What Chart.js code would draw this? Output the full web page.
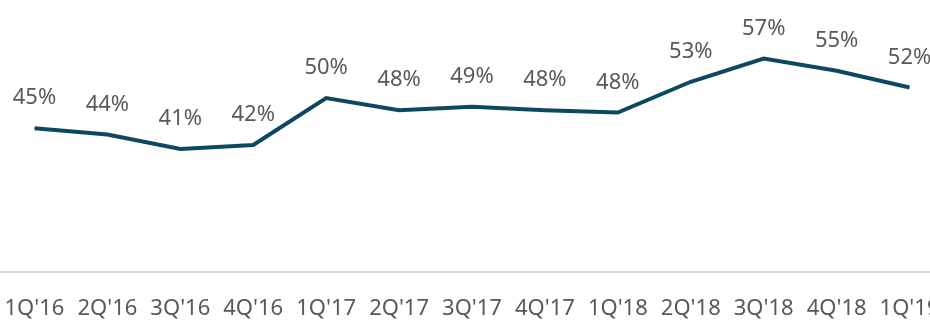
<!DOCTYPE html>
<html lang="en">
<head>
  <meta charset="UTF-8">
  <title>Quarterly share</title>
  <script src="https://cdn.jsdelivr.net/npm/chart.js"></script>
  <style>
    html, body { margin: 0; padding: 0; background: #fff; overflow: hidden; }
    body { width: 930px; height: 321px; position: relative; }
    /* chart is a bit wider than the page so the last label runs off the edge */
    #wrap { position: absolute; left: -2px; top: 0; width: 948px; height: 321px; }
  </style>
</head>
<body>
<div id="wrap"><canvas id="shareChart"></canvas></div>
<script>
  // quarters and values (%)
  const quarters = ["1Q'16", "2Q'16", "3Q'16", "4Q'16", "1Q'17", "2Q'17", "3Q'17",
                    "4Q'17", "1Q'18", "2Q'18", "3Q'18", "4Q'18", "1Q'19"];
  const shareValues = [44.8, 43.7, 41.2, 41.9, 50.0, 47.9, 48.5, 47.9, 47.5, 52.8, 56.8, 54.7, 51.8];

  const lineColor = '#0d4862';
  const textColor = '#595959';
  const fontFamily = "'Noto Sans', sans-serif";

  // writes the rounded value above each point
  const valueLabels = {
    id: 'valueLabels',
    afterDatasetsDraw(chart) {
      const ctx = chart.ctx;
      const meta = chart.getDatasetMeta(0);
      ctx.save();
      ctx.font = '22px ' + fontFamily;
      ctx.fillStyle = textColor;
      ctx.textAlign = 'center';
      ctx.textBaseline = 'alphabetic';
      meta.data.forEach((pt, i) => {
        ctx.fillText(Math.round(shareValues[i]) + '%', pt.x, pt.y - 24);
      });
      ctx.restore();
    }
  };

  new Chart(document.getElementById('shareChart'), {
    type: 'line',
    data: {
      labels: quarters,
      datasets: [{
        data: shareValues,
        borderColor: lineColor,
        borderWidth: 4,
        pointRadius: 0,
        tension: 0,
        fill: false
      }]
    },
    options: {
      responsive: true,
      maintainAspectRatio: false,
      animation: false,
      layout: { padding: { top: 11, left: 0, right: 0, bottom: 0 } },
      plugins: {
        legend: { display: false },
        tooltip: { enabled: false }
      },
      scales: {
        x: {
          offset: true,
          grid: { display: false },
          border: { display: true, color: '#d9d9d9', width: 2 },
          ticks: {
            color: textColor,
            font: { family: fontFamily, size: 22 },
            padding: 16,
            maxRotation: 0,
            autoSkip: false
          },
          afterFit(scale) {
            scale.height = 49;
            // let the edge labels overhang instead of shrinking the plot
            scale.paddingLeft = 0;
            scale.paddingRight = 0;
          }
        },
        y: {
          display: false,
          min: 20,
          max: 65
        }
      }
    },
    plugins: [valueLabels]
  });
</script>
</body>
</html>
